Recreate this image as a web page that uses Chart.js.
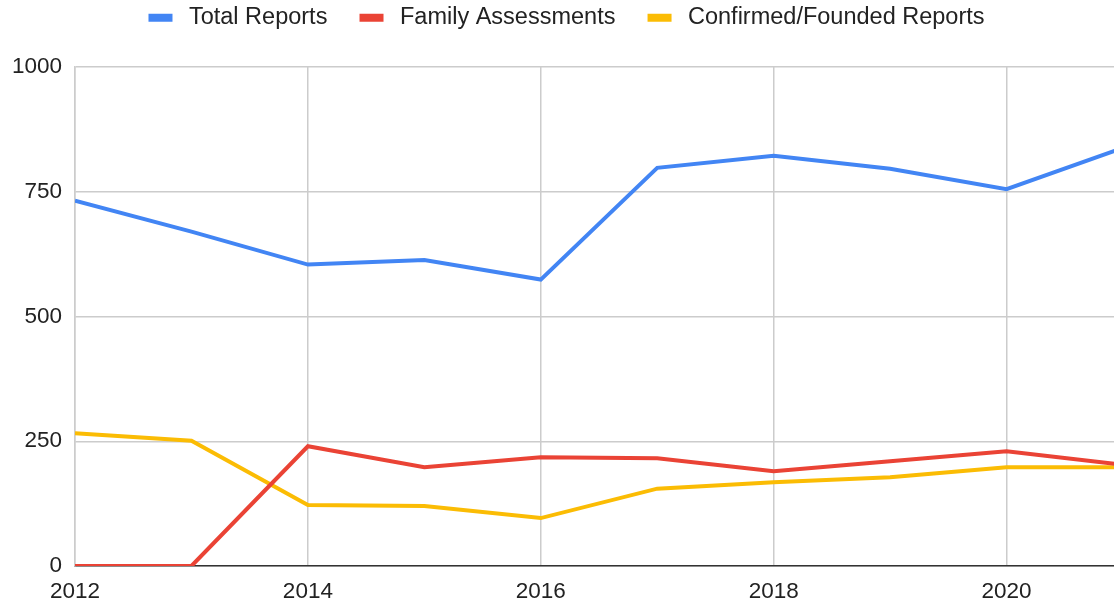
<!DOCTYPE html>
<html>
<head>
<meta charset="utf-8">
<script src="https://cdn.jsdelivr.net/npm/chart.js@4/dist/chart.umd.min.js"></script>
<style>
html, body { margin: 0; padding: 0; overflow: hidden; background: #fff; }
#wrap { position: relative; width: 1124px; height: 605px; }
</style>
</head>
<body>
<div id="wrap"><canvas id="c"></canvas></div>
<script>
const years = [2012, 2013, 2014, 2015, 2016, 2017, 2018, 2019, 2020, 2021];
const totalReports = [732, 670, 604, 613, 574, 798, 822, 796, 755, 838];
const familyAssessments = [0, 0, 240, 198, 218, 216, 190, 210, 230, 203];
const confirmedReports = [266, 251, 122, 120, 96, 155, 168, 178, 198, 198];
const seriesNames = ['Total Reports', 'Family Assessments', 'Confirmed/Founded Reports'];
const seriesColors = ['#4285F4', '#EA4335', '#FBBC04'];
const yTicks = [0, 250, 500, 750, 1000];
const xTicks = [2012, 2014, 2016, 2018, 2020];

const toPoints = arr => arr.map((v, i) => ({ x: years[i], y: v }));
const seriesValues = [totalReports, familyAssessments, confirmedReports];

const FONT = 'Arial, "Liberation Sans", sans-serif';
const LEGEND_HEIGHT = 67;
const LEGEND_SHIFT_X = 5;

const legendTweakPlugin = {
  id: 'legendTweak',
  beforeInit(chart) {
    const lg = chart.legend;
    if (!lg) return;
    const origFit = lg.fit;
    lg.fit = function () {
      origFit.call(this);
      this.height = LEGEND_HEIGHT;
    };
    const origDraw = lg.draw;
    lg.draw = function (...args) {
      const ctx = this.ctx;
      ctx.save();
      ctx.translate(LEGEND_SHIFT_X, 0);
      origDraw.apply(this, args);
      ctx.restore();
    };
  }
};

new Chart(document.getElementById('c'), {
  type: 'line',
  data: {
    datasets: seriesValues.map((vals, i) => ({
      label: seriesNames[i],
      data: toPoints(vals),
      borderColor: seriesColors[i],
      backgroundColor: seriesColors[i],
      borderWidth: 4,
      pointRadius: 0,
      tension: 0,
      fill: false
    }))
  },
  plugins: [legendTweakPlugin],
  options: {
    responsive: true,
    maintainAspectRatio: false,
    animation: false,
    layout: { padding: { left: 0, right: 1, top: 0, bottom: 0 } },
    plugins: {
      tooltip: { enabled: false },
      legend: {
        position: 'top',
        align: 'center',
        labels: {
          boxWidth: 24,
          boxHeight: 8,
          padding: 6,
          color: '#222',
          font: { family: FONT, size: 23.5 },
          generateLabels: (chart) => {
            const items = Chart.defaults.plugins.legend.labels.generateLabels(chart);
            items.forEach((it, i) => {
              it.text = '\u2009' + it.text + (i < items.length - 1 ? '\u00a0\u00a0\u00a0\u00a0' : '');
              it.lineWidth = 0;
            });
            return items;
          }
        }
      }
    },
    scales: {
      x: {
        type: 'linear',
        min: 2012,
        max: 2021,
        afterBuildTicks: (axis) => { axis.ticks = xTicks.map(v => ({ value: v })); },
        afterFit: (axis) => { axis.height = 39; },
        ticks: {
          color: '#222',
          font: { family: FONT, size: 22.5 },
          padding: 12,
          maxRotation: 0,
          callback: v => String(v)
        },
        grid: { color: '#cccccc', lineWidth: 1.5, drawTicks: false },
        border: { color: '#333333', width: 1.5 }
      },
      y: {
        min: 0,
        max: 1000,
        afterBuildTicks: (axis) => { axis.ticks = yTicks.map(v => ({ value: v })); },
        afterFit: (axis) => { axis.width = 75; },
        ticks: {
          color: '#222',
          font: { family: FONT, size: 22.5 },
          padding: 13,
          callback: v => String(v)
        },
        grid: { color: '#cccccc', lineWidth: 1.5, drawTicks: false },
        border: { color: '#cccccc', width: 1.5 }
      }
    }
  }
});
</script>
</body>
</html>
